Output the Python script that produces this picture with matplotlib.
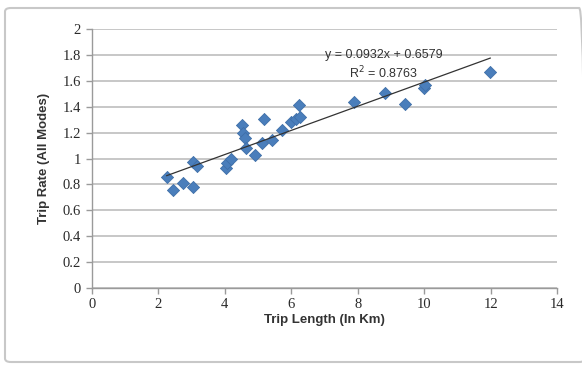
import numpy as np
import matplotlib
matplotlib.use("Agg")
import matplotlib.pyplot as plt
from matplotlib.patches import FancyBboxPatch

# trip length (km) vs trip rate
trip_length = [2.25, 2.43, 2.73, 3.03, 3.03, 3.15, 4.02, 4.05, 4.17, 4.53,
               4.56, 4.62, 4.65, 4.92, 5.19, 5.13, 5.43, 5.73, 6.0, 6.15,
               6.24, 6.27, 7.88, 8.81, 9.41, 10.01, 10.04, 11.99]
trip_rate = [0.86, 0.76, 0.81, 0.78, 0.97, 0.94, 0.93, 0.965, 0.995, 1.26,
             1.20, 1.16, 1.08, 1.03, 1.305, 1.12, 1.14, 1.22, 1.28, 1.305,
             1.41, 1.32, 1.44, 1.505, 1.42, 1.545, 1.57, 1.67]
slope = 0.0932
intercept = 0.6579
r2 = 0.8763

x_ticks = [0, 2, 4, 6, 8, 10, 12, 14]
y_ticks = [0, 0.2, 0.4, 0.6, 0.8, 1, 1.2, 1.4, 1.6, 1.8, 2]
y_labels = ["0", "0.2", "0.4", "0.6", "0.8", "1", "1.2", "1.4", "1.6", "1.8", "2"]

fig = plt.figure(figsize=(5.82, 3.67), dpi=100)
fig.patch.set_facecolor("white")

# chart area border
border = FancyBboxPatch((5 / 582, 5 / 367), 580 / 582, 354 / 367,
                        boxstyle="round,pad=0,rounding_size=0.01",
                        transform=fig.transFigure, fill=False,
                        edgecolor="#c8c8c8", linewidth=1.5)
fig.patches.append(border)

ax = fig.add_axes([92 / 582, 1 - 288 / 367, (557 - 92) / 582, (288 - 29) / 367])

ax.scatter(trip_length, trip_rate, marker="D", s=38, color="#4a7ebb",
           edgecolors="#3f6fa8", linewidths=0.6, zorder=3)

xs = np.array([min(trip_length), max(trip_length)])
ax.plot(xs, slope * xs + intercept, color="#333333", linewidth=0.9, zorder=4)

ax.text(8.78, 1.80, "y = %.4fx + %.4f" % (slope, intercept), ha="center",
        va="center", fontsize=9, color="#333333", family="Liberation Sans", zorder=5)
ax.text(8.78, 1.66, "R$^2$ = %.4f" % r2, ha="center", va="center",
        fontsize=9, color="#333333", family="Liberation Sans", zorder=5)

ax.set_xlim(0, 14)
ax.set_ylim(0, 2)
ax.set_xticks(x_ticks)
ax.set_xticklabels([str(t) for t in x_ticks], family="Liberation Serif",
                   fontsize=10.5, color="#2a2a2a")
ax.set_yticks(y_ticks)
ax.set_yticklabels(y_labels, family="Liberation Serif", fontsize=10.5, color="#2a2a2a")

ax.grid(axis="y", color="#b8b8b8", linewidth=1.1)
ax.set_axisbelow(True)
for side in ["top", "right"]:
    ax.spines[side].set_visible(False)
for side in ["left", "bottom"]:
    ax.spines[side].set_color("#9a9a9a")
    ax.spines[side].set_linewidth(1.0)
ax.tick_params(axis="x", length=4, color="#9a9a9a", width=1.0, pad=3)
ax.tick_params(axis="y", length=4, color="#9a9a9a", width=1.0, pad=4)

ax.set_xlabel("Trip Length (In Km)", fontsize=9.5, fontweight="bold",
              family="Liberation Sans", color="#333333", labelpad=2)
ax.set_ylabel("Trip Rate (All Modes)", fontsize=9.5, fontweight="bold",
              family="Liberation Sans", color="#333333", labelpad=9)

fig.savefig("out.png", dpi=100, facecolor="white")
